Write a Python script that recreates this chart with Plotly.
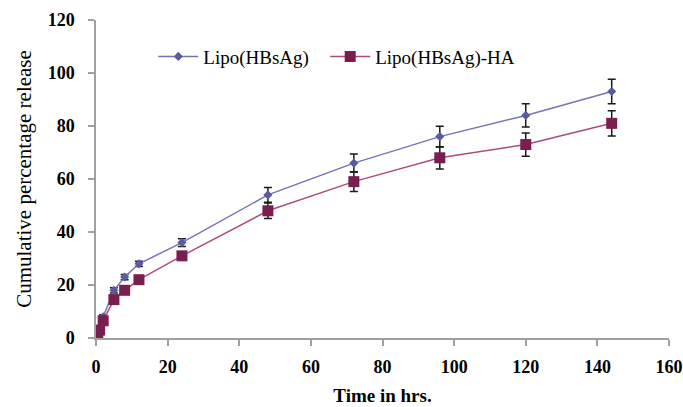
import plotly.graph_objects as go

# Release time points (hours)
time_hrs = [0.5, 1, 2, 5, 8, 12, 24, 48, 72, 96, 120, 144]

# Cumulative percentage release, mean and SD
lipo = [2.5, 4, 8, 18, 23, 28, 36, 54, 66, 76, 84, 93]
lipo_sd = [0.5, 0.5, 0.8, 1.0, 1.0, 1.0, 1.5, 2.8, 3.4, 3.9, 4.4, 4.6]
lipo_ha = [2, 3, 6.5, 14.5, 18, 22, 31, 48, 59, 68, 73, 81]
lipo_ha_sd = [0.5, 0.5, 0.8, 1.0, 1.0, 1.0, 1.2, 2.9, 3.7, 4.2, 4.4, 4.8]

font_family = "Liberation Serif"

fig = go.Figure()
fig.add_trace(go.Scatter(
    x=time_hrs, y=lipo, name="Lipo(HBsAg)", mode="lines+markers",
    line=dict(color="#7474b8", width=1.5),
    marker=dict(symbol="diamond", size=7, color="#5a5a9e"),
    error_y=dict(type="data", array=lipo_sd, color="#1a1a1a", thickness=1.5, width=4),
    legend="legend",
))
fig.add_trace(go.Scatter(
    x=time_hrs, y=lipo_ha, name="Lipo(HBsAg)-HA", mode="lines+markers",
    line=dict(color="#b04a7c", width=1.5),
    marker=dict(symbol="square", size=11, color="#7a1e50"),
    error_y=dict(type="data", array=lipo_ha_sd, color="#1a1a1a", thickness=1.5, width=4),
    legend="legend2",
))

axis_common = dict(
    showgrid=False, zeroline=False, showline=True, linecolor="#a0a0a0", linewidth=1.5,
    ticks="outside", tickcolor="#a0a0a0", ticklen=6, tickwidth=1.5,
    tickfont=dict(family=font_family, size=18, color="black", weight="bold"),
    automargin=False,
)

legend_common = dict(
    orientation="h", y=0.885, xanchor="left", yanchor="middle",
    font=dict(family=font_family, size=19, color="black"),
    bgcolor="rgba(0,0,0,0)", itemwidth=40,
)

fig.update_layout(
    width=683, height=407,
    margin=dict(l=96, r=14, t=20, b=69),
    paper_bgcolor="white", plot_bgcolor="white",
    showlegend=True,
    legend=dict(x=0.1, **legend_common),
    legend2=dict(x=0.4, **legend_common),
    xaxis=dict(range=[0, 160], tick0=0, dtick=20, ticklabelstandoff=6,
               title=dict(text="Time in hrs.", standoff=12,
                          font=dict(family=font_family, size=19, color="black", weight="bold")),
               **axis_common),
    yaxis=dict(range=[0, 120], tick0=0, dtick=20, ticklabelstandoff=10,
               title=dict(text="Cumulative percentage release", standoff=10,
                          font=dict(family=font_family, size=21, color="black")),
               **axis_common),
)

fig.write_html("out.html")
